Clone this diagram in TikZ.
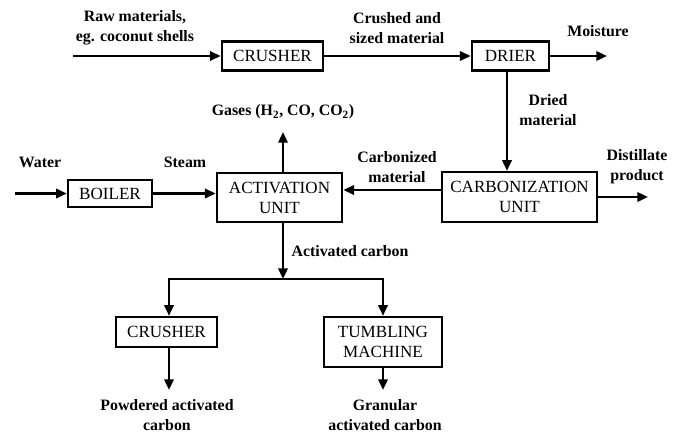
\documentclass[tikz,border=0pt]{standalone}
\usepackage{fontspec}
\setmainfont{Liberation Serif}
\usetikzlibrary{arrows.meta,positioning}

\begin{document}
\begin{tikzpicture}[x=0.75pt,y=-0.75pt,
  unit/.style={draw,line width=1.8pt,align=center,font=\fontsize{12.8}{15}\selectfont,inner sep=0pt},
  lbl/.style={align=center,font=\fontsize{11.9}{15}\selectfont\bfseries,inner sep=0pt},
  arr/.style={-{Triangle[length=8pt,width=7pt]},line width=1.8pt},
  ln/.style={line width=1.8pt}]
  \useasboundingbox (0,0) rectangle (681,432);
  % process units
  \node[unit,minimum width=76pt,minimum height=22pt] (CR1) at (272.5,56) {CRUSHER};
  \node[unit,minimum width=58pt,minimum height=22pt] (DR) at (510.5,56) {DRIER};
  \node[unit,minimum width=63pt,minimum height=20.5pt] (BO) at (110,193.5) {BOILER};
  \node[unit,minimum width=94pt,minimum height=37pt] (AU) at (279.5,197.5) {ACTIVATION\\UNIT};
  \node[unit,minimum width=116pt,minimum height=37.5pt] (CU) at (519.5,197) {CARBONIZATION\\UNIT};
  \node[unit,minimum width=76pt,minimum height=22.5pt] (CR2) at (166.5,332) {CRUSHER};
  \node[unit,minimum width=88.5pt,minimum height=37.5pt] (TM) at (383,342) {TUMBLING\\MACHINE};
  % free ends
  \coordinate (raw) at (73,56);
  \coordinate (moist) at (607,56);
  \coordinate (water) at (15,193.5);
  \coordinate (gas) at (283,132);
  \coordinate (dist) at (648,197);
  \coordinate (split) at (283,279);
  \coordinate (pow) at (169,390);
  \coordinate (gran) at (383,390);
  % labels
  \node[lbl] (Lraw) at (135,28) {Raw materials,\\eg. coconut shells};
  \node[lbl] (Lcru) at (397,28) {Crushed and\\sized material};
  \node[lbl] (Lmoi) at (598,31) {Moisture};
  \node[lbl] (Ldri) at (548,110) {Dried\\material};
  \node[lbl] (Lgas) at (283,112) {Gases (H$_\mathbf{2}$, CO, CO$_\mathbf{2}$)};
  \node[lbl] (Lwat) at (40,162) {Water};
  \node[lbl] (Lste) at (185,162) {Steam};
  \node[lbl] (Lcar) at (397,167) {Carbonized\\material};
  \node[lbl] (Ldis) at (637,167) {Distillate\\product};
  \node[lbl] (Lact) at (350,251) {Activated carbon};
  \node[lbl] (Lpow) at (167,415) {Powdered activated\\carbon};
  \node[lbl] (Lgra) at (385,415) {Granular\\activated carbon};
  % streams
  \draw[arr] (raw) -- (CR1.west |- raw);
  \draw[arr] (CR1.east |- raw) -- (DR.west |- raw);
  \draw[arr] (DR.east |- moist) -- (moist);
  \draw[arr] (DR.south -| 507,0) -- (CU.north -| 507,0);
  \draw[arr] (CU.west |- 0,190) -- (AU.east |- 0,190);
  \draw[arr] (CU.east |- dist) -- (dist);
  \draw[arr] (water) -- (BO.west);
  \draw[arr] (BO.east) -- (AU.west |- BO.east);
  \draw[arr] (AU.north -| gas) -- (gas);
  \draw[arr] (AU.south -| split) -- (split);
  \draw[arr] (split) -| (CR2.north -| pow);
  \draw[arr] (split) -| (TM.north);
  \draw[arr] (CR2.south -| pow) -- (pow);
  \draw[arr] (TM.south) -- (gran);
\end{tikzpicture}
\end{document}
